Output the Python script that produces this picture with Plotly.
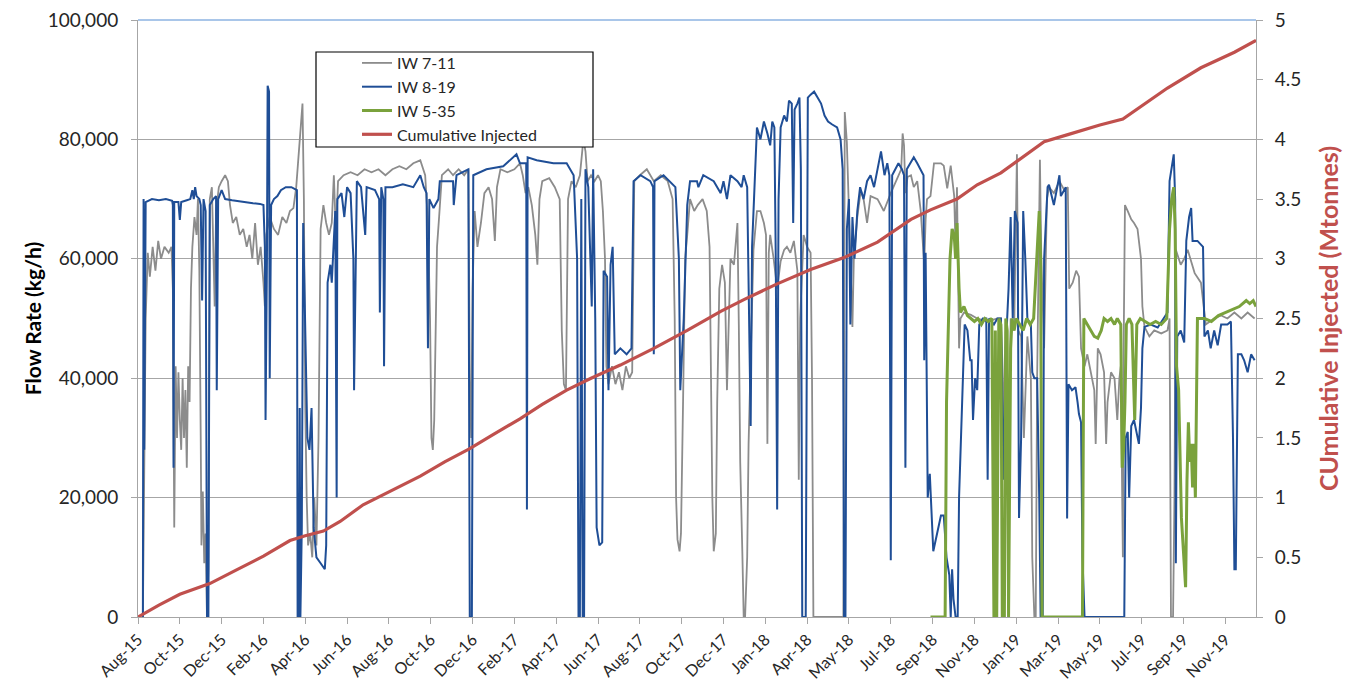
import numpy as np
import pandas as pd
import plotly.graph_objects as go

# ---------------- data (days elapsed since 15 Aug 2015) ----------------
START = "2015-08-15"

iw711_day = [7, 9, 11, 14, 17, 21, 25, 29, 33, 38, 44, 48, 50, 52, 54, 56, 58, 60, 62, 64, 66, 68, 70, 72, 74, 76, 78, 81, 84, 86, 88, 90, 91, 93, 95, 97, 99, 101, 103, 106, 108, 110, 112, 116, 120, 125, 129, 132, 136, 141, 146, 151, 156, 160, 164, 168, 172, 176, 180, 182, 184, 189, 195, 201, 207, 213, 218, 223, 227, 231, 234, 236, 238, 240, 242, 244, 247, 250, 253, 256, 259, 262, 266, 270, 274, 278, 281, 284, 287, 295, 305, 315, 325, 335, 345, 355, 365, 375, 385, 395, 405, 412,
             416, 419, 421, 423, 425, 427, 429, 432, 436, 445, 452, 460, 468, 474, 476, 478, 480, 483, 487, 492, 497, 503, 508, 512, 515, 520, 530, 540, 548, 552, 556, 560, 565, 570, 573, 576, 580, 590, 598, 605, 608, 611, 614, 617, 622, 628, 634, 639, 642, 645, 650, 655, 660, 664, 667, 670, 672, 675, 680, 685, 690, 695, 700, 705, 709, 712, 720, 730, 740, 750, 760, 767, 770, 772, 774, 777, 779, 782, 785, 788, 792, 798, 803, 810, 816, 820, 822, 824, 826, 829, 831, 834, 838, 842, 845, 848, 850, 855, 860, 862, 864, 867, 869, 871, 874, 876, 879, 883, 888, 893, 898, 901, 903, 905, 907, 912, 917, 922, 927, 931, 936, 941, 946, 948, 950, 955, 960, 965, 967, 969, 1012, 1013, 1014, 1017, 1020, 1022, 1025, 1027, 1032, 1037, 1041, 1046, 1051, 1061, 1070, 1080, 1089, 1095, 1097, 1099, 1101, 1104, 1109, 1113, 1118, 1123, 1128, 1130, 1132, 1137, 1142, 1152, 1156, 1161, 1166, 1171, 1173, 1175, 1178, 1180, 1185, 1195, 1204, 1219, 1233, 1238, 1243, 1245, 1250, 1252, 1257, 1261, 1263, 1267, 1271, 1276, 1281, 1283, 1286, 1288, 1290, 1294, 1296, 1300, 1304, 1307, 1314, 1322, 1329, 1334, 1336, 1341, 1346, 1350, 1353, 1358, 1362, 1367, 1372, 1374, 1377, 1381, 1386, 1389, 1391, 1396, 1401, 1405, 1408, 1410, 1413, 1414, 1416, 1420, 1425, 1429, 1434, 1439, 1441, 1444, 1451, 1458, 1468, 1477, 1480, 1482, 1485, 1487, 1489, 1496, 1501, 1506, 1516, 1525, 1528, 1532, 1544, 1554, 1563, 1573, 1583, 1592, 1602]
iw711_kt = [0, 28, 50, 61, 57, 62, 58, 63, 60, 62, 61, 62, 55, 15, 42, 30, 41, 33, 28, 40, 30, 38, 25, 42, 36, 55, 62, 67, 64, 70, 58, 30, 12, 21, 9, 14, 0, 8, 70, 72, 62, 52, 68, 72, 73, 74, 73, 69, 66, 67, 64, 65, 62, 64, 60, 66, 59, 62, 56, 52, 64, 67, 65, 64, 67, 66, 68, 68.5, 72, 78, 84, 86, 70, 35, 20, 12, 14, 10, 20, 12, 30, 65, 69, 66, 64, 66, 74, 64, 73, 74, 74.5, 74, 75, 74.5, 75, 74, 75, 75.5, 75, 76, 76.5, 74,
            66, 50, 30, 28, 33, 45, 62, 67, 74, 75, 74, 75, 74, 75, 40, 30, 55, 68, 62, 66, 71, 72, 70, 63, 72, 75, 74.5, 75, 76, 74, 71, 72, 69, 64, 59, 70, 73, 73.5, 72, 70, 48, 39, 38, 70, 73, 72, 74, 80, 78, 73, 74, 73, 74, 73, 68, 60, 42, 39, 42, 39, 41, 38, 42, 40, 41, 73, 74, 75, 73, 74, 73, 70, 50, 20, 13, 11, 14, 36, 60, 64, 70, 68, 69, 70, 68, 62, 40, 20, 11, 14, 36, 55, 59, 56, 38, 50, 60, 59, 66, 49, 26, 11, 0, 0, 10, 29, 45, 61.5, 68, 68, 66, 64, 29, 61, 64, 60, 55, 59.6, 61.5, 62, 61, 63, 58, 23, 50, 64, 62, 61, 40, 0, 0, 50, 84.6, 79.5, 68, 58, 48.6, 60, 67, 71.5, 70, 66, 70.5, 70, 68, 71, 73.6, 75, 81, 79, 71, 73.7, 74, 72, 73, 68, 59, 66.6, 70, 70.5, 76, 76, 75.6, 71.8, 75.6, 70.5, 61.5, 72, 45, 50, 51, 50.6, 50, 49.5, 50, 50, 33, 48, 30, 50, 48, 77.5, 48, 47, 30, 47, 40, 10, 0, 0, 40, 76.6, 60, 45, 70, 72, 71, 73, 71.5, 72, 55, 56, 58, 57, 45, 42, 44, 41, 38, 29, 45, 44, 41, 29, 36, 41, 40, 33, 40, 42, 10, 44, 69, 68, 66.6, 66, 65, 60, 52, 48.6, 47, 48, 47.5, 48, 50, 0, 0, 20, 61.5, 59, 60, 61.5, 57.6, 56, 52.5, 49, 50, 50.5, 50, 51, 50, 51, 50]

iw819_day = [7, 8, 9, 11, 20, 30, 40, 49, 50, 51, 52, 58, 60, 62, 70, 75, 78, 80, 82, 84, 88, 90, 92, 94, 97, 99, 101, 103, 108, 112, 113, 115, 120, 125, 135, 150, 165, 175, 180, 182, 183, 185, 186, 188, 189, 191, 195, 200, 205, 212, 220, 228, 229, 231, 232, 233, 235, 237, 240, 243, 246, 249, 252, 256, 262, 268, 270, 272, 276, 278, 283, 285, 286, 292, 296, 300, 305, 309, 310, 312, 314, 320, 326, 328, 340, 346, 347, 349, 352, 353, 355, 365, 380, 395, 405, 410, 414, 416, 418,
             424, 431, 433, 452, 453, 457, 474, 476, 479, 481, 500, 524, 543, 548, 557, 558, 559, 572, 596, 615, 625, 630, 632, 634, 636, 638, 640, 642, 646, 651, 653, 656, 658, 662, 666, 668, 673, 675, 678, 681, 684, 692, 701, 708, 711, 721, 735, 739, 740, 741, 754, 771, 776, 778, 783, 788, 792, 802, 804, 811, 826, 836, 840, 845, 850, 860, 866, 869, 874, 877, 879, 881, 884, 888, 893, 898, 903, 907, 910, 913, 915, 917, 919, 922, 927, 931, 934, 938, 940, 942, 946, 949, 951, 953, 958, 961, 965, 970, 975, 980, 985, 990, 996, 1003, 1008, 1011, 1013, 1015, 1017, 1020, 1022, 1025, 1028, 1032, 1036, 1041, 1046, 1051, 1056, 1061, 1066, 1071, 1075, 1078, 1080, 1082, 1086, 1091, 1096, 1099, 1101, 1103, 1108, 1113, 1118, 1123, 1127, 1128, 1130, 1133, 1136, 1141, 1146, 1152, 1156, 1160, 1164, 1166, 1168, 1170, 1173, 1176, 1178, 1182, 1186, 1190, 1194, 1196, 1198, 1201, 1204, 1207, 1212, 1217, 1219, 1221, 1228, 1233, 1238, 1242, 1245, 1249, 1252, 1255, 1258, 1262, 1264, 1267, 1270, 1273, 1276, 1281, 1283, 1286, 1290, 1293, 1295, 1298, 1300, 1305, 1307, 1314, 1322, 1324, 1331, 1333, 1335, 1340, 1345, 1348, 1350, 1353, 1355, 1358, 1415, 1417, 1420, 1422, 1425, 1429, 1434, 1436, 1439, 1441, 1444, 1453, 1463, 1472, 1477, 1480, 1483, 1486, 1488, 1489, 1491, 1496, 1501, 1504, 1508, 1511, 1513, 1520, 1528, 1530, 1535, 1539, 1544, 1549, 1554, 1563, 1568, 1571, 1573, 1575, 1578, 1583, 1587, 1592, 1597, 1602]
iw819_kt = [0, 70, 28, 69.5, 70, 69.8, 70, 69.7, 69, 25, 69.5, 69.5, 66.5, 69.5, 69.8, 70, 71.5, 70, 72, 70.5, 70, 69, 53, 70, 68, 0, 0, 69, 70, 70.5, 38, 70, 71.5, 70, 69.8, 69.5, 69.3, 69.2, 69, 62, 33, 60, 89, 88, 40, 69, 70, 70.5, 71.5, 72, 72, 71.5, 0, 0, 35, 0, 15, 66, 45, 30, 28, 35, 15, 10, 9, 8, 12, 56, 59, 56, 68, 20, 70, 71, 67, 72, 71, 60, 38, 60, 73, 72, 64, 72, 71.5, 70, 51, 72, 70, 42, 72, 72, 72.5, 72, 74, 72, 71, 45, 70,
            68.5, 70, 73, 73, 69, 74, 75, 0, 0, 74, 75, 75.5, 77.5, 76, 76, 18, 77, 76.5, 76, 76, 74, 60, 0, 0, 70, 0, 0, 75, 72, 52, 75, 50, 15, 12, 12.5, 58, 57, 38, 59, 62, 44, 45, 44, 45, 73, 74, 73, 72, 44, 73, 74, 72, 60, 38, 50, 69, 73, 73, 72, 74, 73, 71, 73, 70, 74, 73, 72, 74, 72, 47, 32, 62, 70, 82, 80, 83, 81, 79, 83, 82, 60, 18, 70, 82, 84, 83, 86.5, 86, 66, 85, 86, 87, 75, 0, 0, 87, 87.5, 88, 87, 86, 84, 83, 82.5, 82, 80, 75, 0, 0, 65, 70, 49, 67, 60, 68, 72, 70, 73, 74, 72, 75, 78, 74, 76, 74, 9.5, 74, 75, 76, 75, 74, 25, 75, 76, 77, 76, 75, 74, 43, 61, 20, 24, 11, 14, 17, 17, 10, 7, 0, 8, 3, 0, 0, 20, 35, 49, 48, 43, 43, 33, 40, 38, 49, 50, 50, 23, 50, 49, 50, 50, 23, 45, 55, 67, 50, 68, 66, 16.6, 30, 68, 60, 50, 49, 41, 40, 40, 20, 0, 0, 60, 72, 72.4, 69, 74, 70.5, 72, 16.5, 39, 38, 38.5, 36, 34, 32.6, 10, 0, 0, 30, 31, 20, 32, 33, 30, 29, 35, 45, 48.6, 49, 48.5, 50, 51, 73, 75, 77.5, 70, 9, 47, 48, 46, 63, 67, 68.5, 63, 63, 62, 47, 48, 45, 48, 45.5, 49, 49, 49.5, 30, 8, 8, 44, 44, 43, 41, 44, 43]

iw535_day = [1137, 1158, 1160, 1162, 1165, 1168, 1171, 1173, 1175, 1178, 1180, 1185, 1190, 1195, 1200, 1205, 1210, 1215, 1220, 1225, 1228, 1230, 1232, 1235, 1238, 1240, 1243, 1245, 1247, 1249, 1252, 1254, 1257, 1260, 1265, 1270, 1275, 1280, 1285, 1290, 1293, 1295, 1297, 1355, 1357, 1362, 1367, 1372, 1377, 1382, 1386, 1391, 1396, 1401, 1405, 1410, 1412, 1414, 1416, 1418, 1422, 1426, 1430, 1433, 1438, 1445, 1452, 1460, 1468, 1476, 1480, 1483, 1486, 1488, 1490, 1493, 1497, 1500, 1503, 1505, 1507, 1509, 1511, 1513, 1515, 1517, 1520, 1530, 1540, 1550, 1560, 1570, 1580, 1590, 1595, 1600, 1604]
iw535_kt = [0, 0, 36, 47, 60, 65, 64, 60, 66, 55, 51, 52, 50.5, 50, 49.5, 50, 49, 50, 49.5, 50, 0, 48, 0, 50, 49, 0, 0, 50, 48, 0, 45, 50, 48, 50, 49, 48, 50, 49, 50, 60, 68, 60, 0, 0, 50, 49, 48, 47, 46.7, 48, 50, 49.5, 50, 49, 50, 49, 25, 28, 36, 49, 50, 49, 33, 49, 50, 49.5, 49, 49.5, 49, 50, 65, 70, 72, 65, 42, 38, 16.6, 10.8, 5, 23, 32.6, 26, 29, 21.7, 29, 20, 50, 50, 49.5, 50.5, 51, 51.5, 52, 53, 52.5, 53, 52]

cum_day = [0, 30, 60, 103, 140, 180, 218, 240, 266, 290, 323, 360, 405, 440, 476, 510, 548, 580, 615, 650, 692, 740, 788, 836, 870, 917, 965, 1013, 1061, 1109, 1137, 1175, 1204, 1238, 1270, 1300, 1334, 1380, 1413, 1445, 1477, 1525, 1573, 1604]
cum_mt = [0.0, 0.1, 0.19, 0.28, 0.39, 0.51, 0.64, 0.68, 0.72, 0.8, 0.94, 1.05, 1.18, 1.3, 1.41, 1.53, 1.66, 1.78, 1.9, 2.0, 2.11, 2.25, 2.4, 2.56, 2.66, 2.79, 2.91, 3.01, 3.14, 3.33, 3.41, 3.5, 3.62, 3.72, 3.85, 3.98, 4.04, 4.12, 4.17, 4.3, 4.43, 4.6, 4.73, 4.83]

AXIS_END_DAY = 1604
TICK_STEP_DAYS = 60
N_TICKS = 27


def to_dates(days):
    return pd.Timestamp(START) + pd.to_timedelta(np.asarray(days, dtype=float), unit="D")


GRAY = "#8C8C8C"
BLUE = "#1F4E96"
GREEN = "#7AA23C"
RED = "#C0504D"
FONT = "Lato, 'Open Sans', sans-serif"

fig = go.Figure()
fig.add_trace(go.Scatter(x=to_dates(iw711_day), y=np.asarray(iw711_kt) * 1000, mode="lines",
                         name="IW 7-11", line=dict(color=GRAY, width=1.8)))
fig.add_trace(go.Scatter(x=to_dates(iw819_day), y=np.asarray(iw819_kt) * 1000, mode="lines",
                         name="IW 8-19", line=dict(color=BLUE, width=2)))
fig.add_trace(go.Scatter(x=to_dates(iw535_day), y=np.asarray(iw535_kt) * 1000, mode="lines",
                         name="IW 5-35", line=dict(color=GREEN, width=3)))
fig.add_trace(go.Scatter(x=to_dates(cum_day), y=cum_mt, mode="lines", yaxis="y2",
                         name="Cumulative Injected", line=dict(color=RED, width=3.2)))

tickvals = pd.date_range(START, periods=N_TICKS, freq=f"{TICK_STEP_DAYS}D")

fig.update_layout(
    width=1335, height=682,
    margin=dict(l=130, r=87, t=12, b=73, autoexpand=False),
    paper_bgcolor="white", plot_bgcolor="white",
    font=dict(family=FONT, size=17, color="#262626"),
    showlegend=True,
    legend=dict(x=(349 - 130) / 1118, y=(609 - 38) / 597, xanchor="left", yanchor="top",
                bgcolor="rgba(0,0,0,0)", borderwidth=0, font=dict(size=16, color="#262626"),
                itemwidth=30),
    xaxis=dict(range=[to_dates([0])[0], to_dates([AXIS_END_DAY])[0]], tickvals=tickvals,
               tickformat="%b-%y", tickangle=-45, showgrid=False, showline=True,
               linecolor="#A6A6A6", linewidth=1, ticks="outside", ticklen=6, tickcolor="#A6A6A6",
               tickfont=dict(size=16), zeroline=False, automargin=False, ticklabeloverflow="allow"),
    yaxis=dict(range=[0, 100000], dtick=20000, tickformat=",", showgrid=True,
               gridcolor="#A6A6A6", gridwidth=1, showline=True, linecolor="#A6A6A6",
               ticks="outside", ticklen=6, tickcolor="#A6A6A6", zeroline=False,
               tickfont=dict(size=19), ticklabelstandoff=9, automargin=False,
               ticklabeloverflow="allow",
               title=dict(text="<b>Flow Rate (kg/h)</b>", font=dict(size=21, color="#000000"), standoff=0)),
    yaxis2=dict(range=[0, 5], dtick=0.5, overlaying="y", side="right", showgrid=False,
                showline=True, linecolor="#A6A6A6", ticks="outside", ticklen=6,
                tickcolor="#A6A6A6", zeroline=False, tickfont=dict(size=19),
                ticklabelstandoff=8, automargin=False, ticklabeloverflow="allow",
                title=dict(text="<b>CUmulative Injected (Mtonnes)</b>", font=dict(size=25, color=RED), standoff=20)),
    shapes=[
        dict(type="line", xref="paper", yref="paper", x0=0, x1=1, y0=1, y1=1,
             line=dict(color="#8DB3E2", width=1.5), layer="above"),
        dict(type="rect", xref="paper", yref="paper",
             x0=(308 - 130) / 1118, x1=(585 - 130) / 1118,
             y0=(609 - 139) / 597, y1=(609 - 44) / 597,
             fillcolor="white", line=dict(color="#000000", width=1.2), layer="above"),
    ],
)

fig.write_html("out.html")
